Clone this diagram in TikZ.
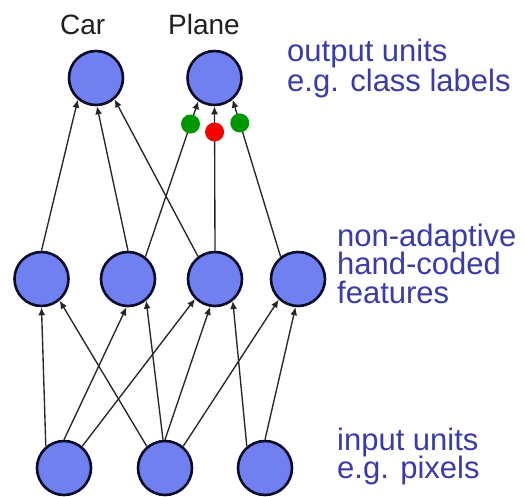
\documentclass[tikz,border=0pt]{standalone}
\usepackage{fontspec}
\setmainfont{Liberation Sans}
\usetikzlibrary{arrows.meta}

\definecolor{unitfill}{RGB}{112,128,240}
\definecolor{unitedge}{RGB}{12,12,40}
\definecolor{notecol}{RGB}{58,58,168}
\definecolor{gooddot}{RGB}{0,150,0}
\definecolor{baddot}{RGB}{245,0,0}

\begin{document}
\begin{tikzpicture}[x=1pt,y=-1pt,
  unit/.style={circle, draw=unitedge, fill=unitfill, line width=2.6pt,
               minimum size=54pt, inner sep=0pt},
  link/.style={-{Latex[length=8pt,width=7pt]}, line width=1.35pt, black!85},
  gdot/.style={circle, fill=gooddot, minimum size=19pt, inner sep=0pt},
  rdot/.style={circle, fill=baddot, minimum size=19pt, inner sep=0pt},
  cls/.style={font=\fontsize{28}{32}\selectfont, text=black!88,
              inner sep=0pt, anchor=base west},
  note/.style={font=\fontsize{31}{32}\selectfont, text=notecol,
               inner sep=0pt, anchor=base west}]

\useasboundingbox (0,0) rectangle (525,497);

% output layer
\node[unit] (car)   at (96,78)    {};
\node[unit] (plane) at (214.5,78) {};

% hand-coded feature layer
\node[unit] (h1) at (41.5,279) {};
\node[unit] (h2) at (128,279)  {};
\node[unit] (h3) at (215,279)  {};
\node[unit] (h4) at (298,279)  {};

% input layer
\node[unit] (i1) at (64,468)  {};
\node[unit] (i2) at (165,468) {};
\node[unit] (i3) at (265,468) {};

% inputs -> features
\draw[link] (i1.130) -- (h1.-90);
\draw[link] (i1.90)  -- (h2.-93);
\draw[link] (i1.50)  -- (h3.-135);
\draw[link] (i2.130) -- (h1.-50);
\draw[link] (i2.94)  -- (h2.-50);
\draw[link] (i2.90)  -- (h3.-100);
\draw[link] (i2.50)  -- (h4.-133);
\draw[link] (i3.130) -- (h3.-51);
\draw[link] (i3.90)  -- (h4.-95);

% features -> outputs
\draw[link] (h1.90)  -- (car.-130);
\draw[link] (h2.90)  -- (car.-88);
\draw[link] (h3.127) -- (car.-49);
\draw[link] (h2.52)  -- node[gdot, pos=0.853] (w1) {} (plane.-125);
\draw[link] (h3.90)  -- node[rdot, pos=0.822] (w2) {} (plane.-90);
\draw[link] (h4.128) -- node[gdot, pos=0.852] (w3) {} (plane.-50);

% class names
\node[cls] (tcar)   at (60,35)  {Car};
\node[cls] (tplane) at (168,35) {Plane};

% layer descriptions
\node[note] (o1) at (287,62)  {output units};
\node[note] (o2) at (287,92)  {e.g. class labels};
\node[note] (f1) at (337,247) {non-adaptive};
\node[note] (f2) at (337,275) {hand-coded};
\node[note] (f3) at (337,303) {features};
\node[note] (n1) at (337,450) {input units};
\node[note] (n2) at (337,478) {e.g. pixels};
\end{tikzpicture}
\end{document}
